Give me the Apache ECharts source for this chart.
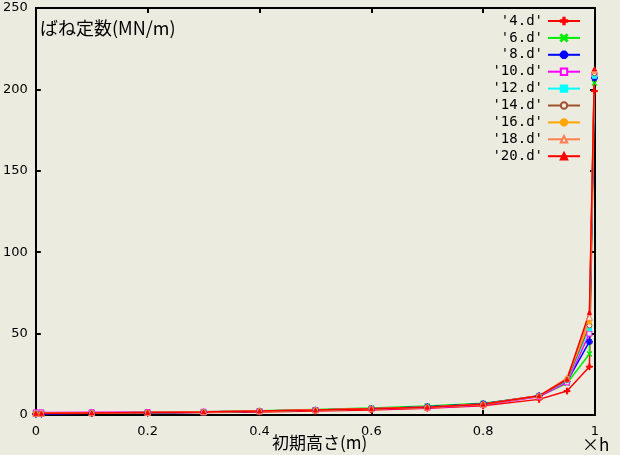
<!DOCTYPE html>
<html><head><meta charset="utf-8">
<script src="https://cdn.jsdelivr.net/npm/echarts@6/dist/echarts.min.js"></script>
<style>html,body{margin:0;padding:0;background:#ecebdf;}#c{width:620px;height:455px;}</style>
</head><body><div id="c"></div>
<script>
const xValues = [0, 0.01, 0.1, 0.2, 0.3, 0.4, 0.5, 0.6, 0.7, 0.8, 0.9, 0.95, 0.99, 0.999];
const seriesNames = ["'4.d'", "'6.d'", "'8.d'", "'10.d'", "'12.d'", "'14.d'", "'16.d'", "'18.d'", "'20.d'"];
const s4  = [0.8, 0.8, 1.0, 1.2, 1.5, 1.9, 2.4, 3.1, 4.2, 5.7, 9.6, 14.7, 29.7, 199];
const s6  = [1.0, 1.0, 1.3, 1.6, 2.0, 2.6, 3.4, 4.3, 5.5, 7.2, 11.5, 19.5, 37.5, 204];
const s8  = [0.5, 0.6, 1.0, 1.3, 1.7, 2.3, 3.0, 3.9, 5.1, 6.9, 11.9, 20.5, 45, 207];
const s10 = [1.6, 1.6, 1.7, 1.8, 2.0, 2.4, 3.0, 3.7, 4.3, 6.2, 11.2, 20.0, 50, 209];
const s12 = [1.0, 1.0, 1.3, 1.6, 1.9, 2.4, 3.0, 3.8, 4.8, 6.5, 11.7, 21.0, 53, 208];
const s14 = [1.0, 1.0, 1.3, 1.6, 1.9, 2.4, 3.0, 3.8, 4.8, 6.5, 11.6, 21.5, 55, 210];
const s16 = [1.0, 1.0, 1.3, 1.6, 1.9, 2.4, 3.0, 3.8, 4.8, 6.6, 11.8, 22.7, 57, 211];
const s18 = [1.0, 1.0, 1.3, 1.6, 1.9, 2.4, 3.0, 3.8, 4.8, 6.6, 11.8, 22.5, 60, 212];
const s20 = [1.0, 1.0, 1.3, 1.6, 1.9, 2.4, 3.0, 3.8, 4.8, 6.6, 11.8, 22.0, 63, 212.5];
const seriesValues = [s4, s6, s8, s10, s12, s14, s16, s18, s20];
const xTicks = [0, 0.2, 0.4, 0.6, 0.8, 1];
const yTicks = [0, 50, 100, 150, 200, 250];

const colors = ['#ff0000', '#00ee00', '#0000ff', '#ff00ff', '#00ffff', '#a0522d', '#ffa500', '#ff7f50', '#ff0000'];
const symbols = [
  {symbol: 'path://M4,0H6V4H10V6H6V10H4V6H0V4H4Z', size: 6, fill: true},
  {symbol: 'path://M0,1L1,0L5,4L9,0L10,1L6,5L10,9L9,10L5,6L1,10L0,9L4,5Z', size: 5, fill: true},
  {symbol: 'path://M4,0H6V3L8,1L9,2L7,4H10V6H7L9,8L8,9L6,7V10H4V7L2,9L1,8L3,6H0V4H3L1,2L2,1L4,3Z', size: 6, fill: true},
  {symbol: 'rect', size: 5, fill: false},
  {symbol: 'rect', size: 4, fill: true},
  {symbol: 'circle', size: 5, fill: false},
  {symbol: 'circle', size: 4, fill: true},
  {symbol: 'triangle', size: 6, fill: false},
  {symbol: 'triangle', size: 4, fill: true}
];
const bg = '#ecebdf';

const series = seriesNames.map((name, i) => ({
  name: name,
  type: 'line',
  data: xValues.map((x, j) => [x, seriesValues[i][j]]),
  symbol: symbols[i].symbol,
  symbolSize: symbols[i].size,
  showSymbol: true,
  animation: false,
  lineStyle: {color: colors[i], width: 1.5},
  itemStyle: {color: symbols[i].fill ? colors[i] : bg, borderColor: colors[i], borderWidth: 1},
  emphasis: {disabled: true}
}));

const chart = echarts.init(document.getElementById('c'), null, {renderer: 'canvas'});
const axisCommon = {
  axisLine: {show: true, onZero: false, lineStyle: {color: '#000', width: 2}},
  axisTick: {show: true, inside: true, length: 5, lineStyle: {color: '#000', width: 2}},
  splitLine: {show: false}
};
chart.setOption({
  backgroundColor: bg,
  animation: false,
  color: colors,
  grid: {left: 35, right: 25, top: 8, bottom: 40, containLabel: false},
  xAxis: [
    Object.assign({
      type: 'value', min: xTicks[0], max: xTicks[xTicks.length - 1], interval: 0.2, position: 'bottom',
      axisLabel: {color: '#000', fontFamily: 'DejaVu Sans', fontSize: 13, margin: 10}
    }, axisCommon),
    Object.assign({
      type: 'value', min: 0, max: 1, interval: 0.2, position: 'top', axisLabel: {show: false}
    }, axisCommon)
  ],
  yAxis: [
    Object.assign({
      type: 'value', min: yTicks[0], max: yTicks[yTicks.length - 1], interval: 50, position: 'left',
      axisLabel: {color: '#000', fontFamily: 'DejaVu Sans', fontSize: 13, margin: 8}
    }, axisCommon),
    Object.assign({
      type: 'value', min: 0, max: 250, interval: 50, position: 'right', axisLabel: {show: false}
    }, axisCommon)
  ],
  legend: {
    orient: 'vertical',
    right: 34,
    top: 9,
    align: 'right',
    itemWidth: 32,
    itemHeight: 8,
    itemGap: 2.9,
    selectedMode: false,
    data: seriesNames,
    textStyle: {color: '#000', fontFamily: 'DejaVu Sans Mono', fontSize: 14, lineHeight: 14, width: 54, align: 'right', padding: [0, 0, 0, 0]}
  },
  graphic: [
    {type: 'text', left: 40, top: 19, style: {text: 'ばね定数(MN/m)', font: '18px "Noto Sans CJK JP"', fill: '#000'}, silent: true},
    {type: 'text', left: 272, top: 434, style: {text: '初期高さ(m)', font: '17px "Noto Sans CJK JP"', fill: '#000'}, silent: true},
    {type: 'text', left: 582, top: 436, style: {text: '×h', font: '17px "Noto Sans CJK JP"', fill: '#000'}, silent: true}
  ],
  series: series
});
</script></body></html>
